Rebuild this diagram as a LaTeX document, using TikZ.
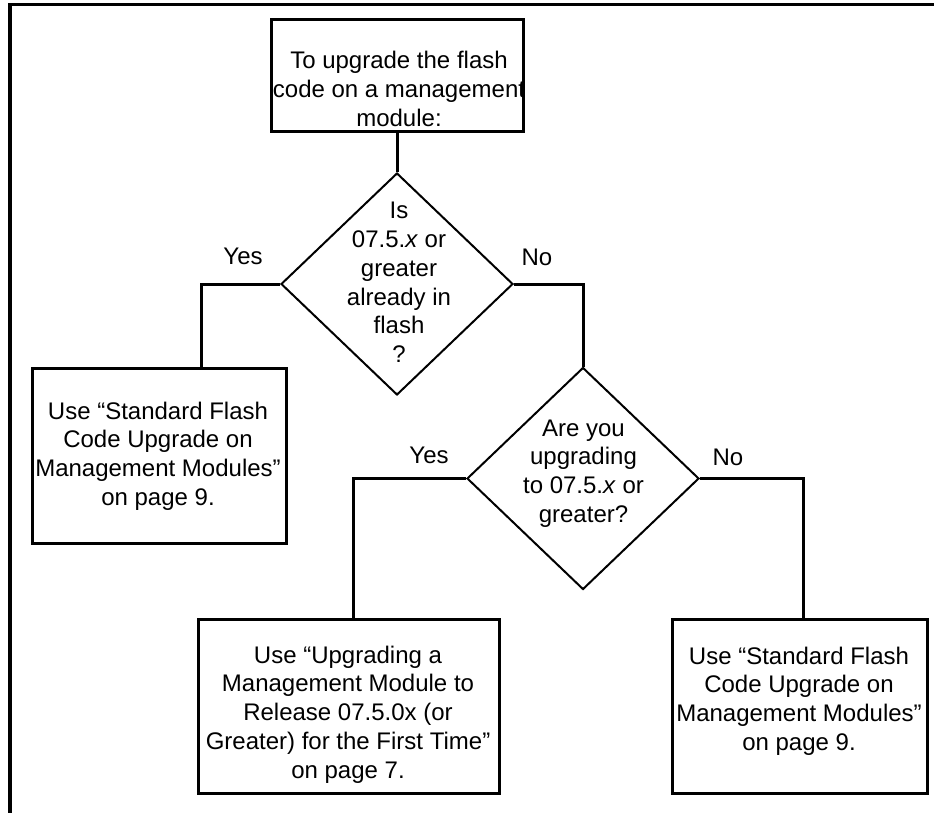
\documentclass[tikz,border=0pt]{standalone}
\usepackage{fontspec}
\setmainfont{Liberation Sans}
\usetikzlibrary{shapes.geometric}
\begin{document}
\begin{tikzpicture}[x=1pt,y=-1pt,
  box/.style={draw, line width=3pt, rectangle, inner sep=0pt},
  dia/.style={draw, line width=2pt, diamond, inner sep=0pt, minimum width=232pt, minimum height=222pt},
  txt/.style={align=center, font=\fontsize{24pt}{28.8pt}\selectfont, inner sep=0pt},
  lbl/.style={font=\fontsize{24pt}{28.8pt}\selectfont, inner sep=0pt, anchor=base},
  conn/.style={line width=3pt},
  frame/.style={line width=3.5pt}]
\useasboundingbox (0,0) rectangle (934,813);
% frame
\coordinate (fa) at (10,813);
\coordinate (fb) at (10,4.5);
\coordinate (fc) at (934,4.5);
\draw[frame] (fa) -- (fb) -- (fc);
% nodes
\node[box, minimum width=252pt, minimum height=112pt] (start) at (397,76) {};
\node[txt] (starttxt) at (399,89) {To upgrade the flash\\code on a management\\module:};
\node[dia] (q1) at (397,284) {};
\node[txt] (q1txt) at (399,282.5) {Is\\07.5.\textit{x} or\\greater\\already in\\flash\\?};
\node[box, minimum width=254pt, minimum height=175pt] (left) at (159,455.5) {};
\node[txt] (lefttxt) at (158,456) {Use “Standard Flash\\Code Upgrade on\\Management Modules”\\on page 9.};
\node[dia] (q2) at (583,478.5) {};
\node[txt] (q2txt) at (583.5,473.5) {Are you\\upgrading\\to 07.5.\textit{x} or\\greater?};
\node[box, minimum width=301pt, minimum height=174pt] (mid) at (348.5,706) {};
\node[txt] (midtxt) at (348,714.5) {Use “Upgrading a\\Management Module to\\Release 07.5.0x (or\\Greater) for the First Time”\\on page 7.};
\node[box, minimum width=255pt, minimum height=174pt] (right) at (799.5,706) {};
\node[txt] (righttxt) at (799,701) {Use “Standard Flash\\Code Upgrade on\\Management Modules”\\on page 9.};
% labels
\node[lbl] (yes1) at (243,264) {Yes};
\node[lbl] (no1) at (537,265) {No};
\node[lbl] (yes2) at (429,463) {Yes};
\node[lbl] (no2) at (728,465) {No};
% connectors
\coordinate (y1) at (201,284);
\coordinate (y2) at (353,478.5);
\coordinate (n2) at (803,478.5);
\draw[conn] (start.south) -- (q1.north);
\draw[conn] (q1.west) -- (y1) -- (y1 |- left.north);
\draw[conn] (q1.east) -| (q2.north);
\draw[conn] (q2.west) -- (y2) -- (y2 |- mid.north);
\draw[conn] (q2.east) -- (n2) -- (n2 |- right.north);
\end{tikzpicture}
\end{document}
